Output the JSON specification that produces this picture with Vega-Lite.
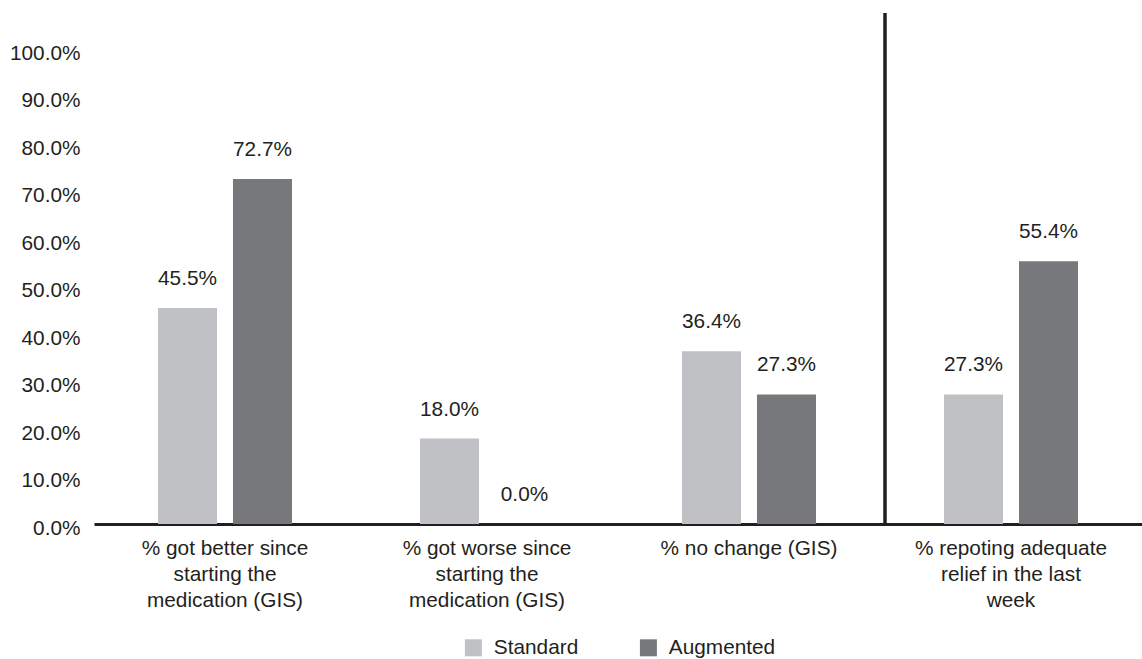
{
  "$schema": "https://vega.github.io/schema/vega-lite/v6.json",
  "width": 1048,
  "height": 511,
  "autosize": {"type": "none"},
  "padding": {"left": 94, "top": 13, "right": 0, "bottom": 135},
  "config": {"view": {"stroke": null}, "font": "Liberation Sans", "text": {"font": "Liberation Sans"}},
  "data": {
    "values": [
      {"cat": "% got better since|starting the|medication (GIS)", "group": "Standard", "value": 0.455},
      {"cat": "% got better since|starting the|medication (GIS)", "group": "Augmented", "value": 0.727},
      {"cat": "% got worse since|starting the|medication (GIS)", "group": "Standard", "value": 0.18},
      {"cat": "% got worse since|starting the|medication (GIS)", "group": "Augmented", "value": 0.0},
      {"cat": "% no change (GIS)", "group": "Standard", "value": 0.364},
      {"cat": "% no change (GIS)", "group": "Augmented", "value": 0.273},
      {"cat": "% repoting adequate|relief in the last|week", "group": "Standard", "value": 0.273},
      {"cat": "% repoting adequate|relief in the last|week", "group": "Augmented", "value": 0.554}
    ]
  },
  "layer": [
    {
      "mark": {"type": "bar"},
      "encoding": {
        "x": {
          "field": "cat", "type": "nominal", "sort": null,
          "scale": {"paddingInner": 0, "paddingOuter": 0},
          "axis": {
            "title": null,
            "labelAngle": 0,
            "labelExpr": "split(datum.label, '|')",
            "labelFontSize": 20.8,
            "labelLineHeight": 26,
            "labelColor": "#231f20",
            "labelPadding": 14,
            "labelLimit": 0,
            "ticks": false,
            "domain": true,
            "domainColor": "#231f20",
            "domainWidth": 3,
            "grid": false
          }
        },
        "xOffset": {
          "field": "group", "type": "nominal", "sort": ["Standard", "Augmented"],
          "scale": {"paddingInner": 0.213, "paddingOuter": 0.853}
        },
        "y": {
          "field": "value", "type": "quantitative",
          "scale": {"domain": [0, 1.077], "nice": false},
          "axis": {
            "title": null,
            "values": [0, 0.1, 0.2, 0.3, 0.4, 0.5, 0.6, 0.7, 0.8, 0.9, 1.0],
            "format": ".1%",
            "domain": false,
            "ticks": false,
            "grid": false,
            "labelFontSize": 20.8,
            "labelColor": "#231f20",
            "labelPadding": 14,
            "labelOffset": 4
          }
        },
        "color": {
          "field": "group", "type": "nominal",
          "scale": {"domain": ["Standard", "Augmented"], "range": ["#c0c1c4", "#77787c"]},
          "legend": {
            "title": null,
            "orient": "none",
            "legendX": 369,
            "legendY": 624,
            "direction": "horizontal",
            "symbolType": "square",
            "symbolSize": 289,
            "symbolStrokeWidth": 0,
            "labelFontSize": 20.8,
            "labelColor": "#231f20",
            "labelOffset": 10,
            "columnPadding": 59
          }
        }
      }
    },
    {
      "mark": {"type": "text", "dy": -29, "baseline": "middle", "align": "center", "fontSize": 20.8, "color": "#231f20"},
      "encoding": {
        "x": {"field": "cat", "type": "nominal", "sort": null},
        "xOffset": {"field": "group", "type": "nominal", "sort": ["Standard", "Augmented"]},
        "y": {"field": "value", "type": "quantitative"},
        "text": {"field": "value", "type": "quantitative", "format": ".1%"}
      }
    },
    {
      "data": {"values": [{"cat": "% repoting adequate|relief in the last|week"}]},
      "mark": {"type": "rule", "color": "#231f20", "strokeWidth": 3.5, "xOffset": 5},
      "encoding": {
        "x": {"field": "cat", "type": "nominal", "sort": null, "bandPosition": 0}
      }
    }
  ]
}
